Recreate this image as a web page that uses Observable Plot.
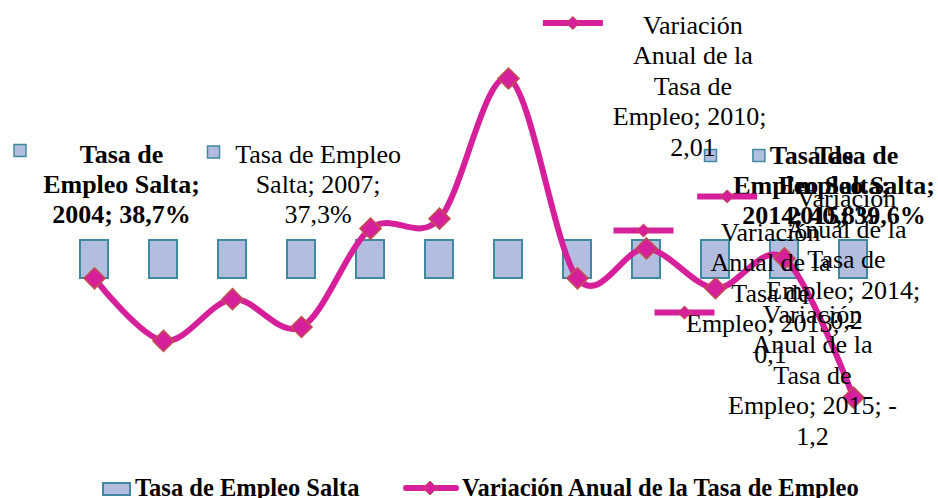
<!DOCTYPE html>
<html>
<head>
<meta charset="utf-8">
<script src="https://cdn.jsdelivr.net/npm/d3@7"></script>
<script src="https://cdn.jsdelivr.net/npm/@observablehq/plot@0.6"></script>
<style>
  html, body { margin: 0; padding: 0; background: #ffffff; }
  #chart { position: relative; width: 938px; height: 498px; overflow: hidden; font-family: "Liberation Serif", "Times New Roman", Times, Tinos, "DejaVu Serif", serif; }
  #chart svg.layer { position: absolute; left: 0; top: 0; }
  #chart svg text { font-family: "Liberation Serif", "Times New Roman", Times, Tinos, "DejaVu Serif", serif; }
  .lg { position: absolute; top: 473px; height: 30px; line-height: 30px; font-size: 24.5px; font-weight: bold; color: #000; white-space: nowrap; }
  .lgkey { position: absolute; }
</style>
</head>
<body>
<div id="chart"></div>
<script>
// ---- data ----
const years = [2004, 2005, 2006, 2007, 2008, 2009, 2010, 2011, 2012, 2013, 2014, 2015];
const tasaEmpleoSalta = [38.7, 38.1, 37.9, 37.3, 37.8, 38.4, 40.4, 40.4, 40.7, 40.6, 40.8, 39.6];
const variacionAnual = [0.0, -0.63, -0.21, -0.49, 0.50, 0.60, 2.01, 0.0, 0.30, -0.1, 0.2, -1.2];
const seriesNames = ["Tasa de Empleo Salta", "Variación Anual de la Tasa de Empleo"];
const barLabelYears = [2004, 2007, 2014, 2015];
const lineLabelYears = [2010, 2013, 2014, 2015];

// ---- styles ----
const BAR_FILL = "#b3bde0", BAR_STROKE = "#3f8a9f";
const LINE_COLOR = "#d6209b", MARKER_STROKE = "#c0504d";
const FONT = "Liberation Serif, Times New Roman, Times, Tinos, DejaVu Serif, serif";

const barData = years.map((year, i) => ({year, value: tasaEmpleoSalta[i]}));
const lineData = years.map((year, i) => ({year, value: variacionAnual[i]}));

const fmtPct = v => v.toFixed(1).replace(".", ",") + "%";
const fmtVar = v => String(Math.abs(v)).replace(".", ",");

// label placement (offsets from anchor point, in px)
const barLabelStyle = {
  2004: {bold: true,  dx: 27, dy: -18, kdx: -74.5, kdy: -90},
  2007: {bold: false, dx: 16.6, dy: -18, kdx: -88, kdy: -88.5},
  2014: {bold: true,  dx: 27, dy: -17, kdx: -74, kdy: -85},
  2015: {bold: true,  dx: 3,  dy: -17, kdx: -94.6, kdy: -85}
};
const lineLabelStyle = {
  2010: {dx: 184.4, dy: 77,  kdx: 64.4, kdy: -55.5},
  2013: {dx: 55,    dy: 74.3, kdx: -72, kdy: -57.7},
  2014: {dx: 62,    dy: 71,  kdx: -57.3, kdy: -62},
  2015: {dx: -41,   dy: 47,  kdx: -169, kdy: -85}
};

const xScale = {type: "band", domain: years, range: [58.5, 887.7], paddingInner: 0.6, paddingOuter: 0.3, axis: null};

const keyLine = {draw(ctx) { ctx.rect(-30, -3, 60, 6); }};
const keySquare = {draw(ctx) { ctx.rect(-6, -6, 12, 12); }};

function barLabelText(d) {
  const st = barLabelStyle[d.year];
  return st.bold
    ? `Tasa de\nEmpleo Salta;\n${d.year}; ${fmtPct(d.value)}`
    : `Tasa de Empleo\nSalta; ${d.year};\n${fmtPct(d.value)}`;
}
function lineLabelText(d) {
  return `Variación\nAnual de la\nTasa de\nEmpleo; ${d.year}; ${d.value < 0 ? "-" : ""}\n${fmtVar(d.value)}`;
}

// ---- layer A: bars and their labels ----
const barMarks = [
  Plot.barY(barData, {x: "year", y: "value", fill: BAR_FILL, stroke: BAR_STROKE, strokeWidth: 2})
];
for (const yr of barLabelYears) {
  const st = barLabelStyle[yr];
  const d = barData.filter(e => e.year === yr);
  barMarks.push(Plot.dot(d, {x: "year", y: "value", symbol: keySquare, r: 5, fill: BAR_FILL, stroke: BAR_STROKE, strokeWidth: 1.5, dx: st.kdx, dy: st.kdy}));
  barMarks.push(Plot.text(d, {x: "year", y: "value", text: barLabelText, dx: st.dx, dy: st.dy,
    lineAnchor: "bottom", lineHeight: 1.154, fontSize: 26, fontFamily: FONT, fontWeight: st.bold ? "bold" : "normal", fill: "#000"}));
}
const plotA = Plot.plot({
  width: 938, height: 470, margin: 0,
  x: xScale,
  y: {type: "linear", domain: [30, 37], range: [278, 240], clamp: true, axis: null},
  style: {background: "transparent", overflow: "visible", fontFamily: FONT},
  marks: barMarks
});

// ---- layer B: line and its labels ----
const lineMarks = [
  Plot.line(lineData, {x: "year", y: "value", stroke: LINE_COLOR, strokeWidth: 6, curve: "cardinal"}),
  Plot.dot(lineData, {x: "year", y: "value", symbol: "diamond2", r: 9.5, fill: LINE_COLOR, stroke: MARKER_STROKE, strokeWidth: 1.5})
];
for (const yr of lineLabelYears) {
  const st = lineLabelStyle[yr];
  const d = lineData.filter(e => e.year === yr);
  lineMarks.push(Plot.dot(d, {x: "year", y: "value", symbol: keyLine, r: 5, fill: LINE_COLOR, dx: st.kdx, dy: st.kdy}));
  lineMarks.push(Plot.dot(d, {x: "year", y: "value", symbol: "diamond2", r: 5.9, fill: LINE_COLOR, stroke: MARKER_STROKE, strokeWidth: 1, dx: st.kdx, dy: st.kdy}));
  lineMarks.push(Plot.text(d, {x: "year", y: "value", text: lineLabelText, dx: st.dx, dy: st.dy,
    lineAnchor: "bottom", lineHeight: 1.173, fontSize: 26, fontFamily: FONT, fill: "#000"}));
}
const plotB = Plot.plot({
  width: 938, height: 470, margin: 0,
  x: xScale,
  y: {type: "linear", domain: [0, 1], range: [277.8, 178.4], axis: null},
  style: {background: "transparent", overflow: "visible", fontFamily: FONT},
  marks: lineMarks
});

const chart = document.getElementById("chart");
plotA.classList.add("layer");
plotB.classList.add("layer");
chart.appendChild(plotA);
chart.appendChild(plotB);

// ---- legend ----
const legendHTML = `
  <svg class="lgkey" style="left:102px;top:482px" width="30" height="15">
    <rect x="1" y="1" width="27" height="12" fill="${BAR_FILL}" stroke="${BAR_STROKE}" stroke-width="2"></rect>
  </svg>
  <div class="lg" style="left:135px">${seriesNames[0]}</div>
  <svg class="lgkey" style="left:402px;top:479px" width="58" height="18">
    <rect x="1" y="6" width="56" height="6" rx="3" fill="${LINE_COLOR}"></rect>
    <path d="M28,2 L35,9 L28,16 L21,9 Z" fill="${LINE_COLOR}" stroke="${MARKER_STROKE}" stroke-width="1"></path>
  </svg>
  <div class="lg" style="left:462px">${seriesNames[1]}</div>`;
chart.insertAdjacentHTML("beforeend", legendHTML);
</script>
</body>
</html>
